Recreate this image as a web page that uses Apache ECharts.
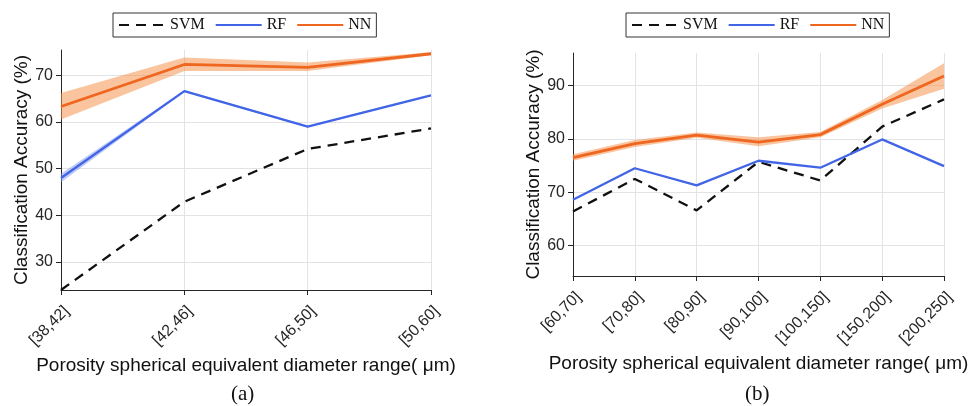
<!DOCTYPE html>
<html>
<head>
<meta charset="UTF-8">
<title>Classification Accuracy</title>
<script src="https://cdn.jsdelivr.net/npm/echarts@6/dist/echarts.min.js"></script>
<style>
  html, body { margin: 0; padding: 0; background: #fff; }
  #main { width: 974px; height: 406px; }
</style>
</head>
<body>
<div id="main"></div>
<script type="text/javascript">
// (a) categories & values
var catsA = ['[38,42]', '[42,46]', '[46,50]', '[50,60]'];
var svmA = [24.0, 42.9, 54.2, 58.6];
var rfA = [48.0, 66.6, 59.0, 65.7];
var rfALo = [47.1, 66.4, 58.8, 65.5];
var rfAHi = [48.9, 66.8, 59.2, 65.9];
var nnA = [63.3, 72.3, 71.7, 74.6];
var nnALo = [60.5, 70.9, 70.9, 74.3];
var nnAHi = [66.2, 73.8, 72.7, 74.9];

// (b) categories & values
var catsB = ['[60,70]', '[70,80]', '[80,90]', '[90,100]', '[100,150]', '[150,200]', '[200,250]'];
var svmB = [66.4, 72.5, 66.6, 75.7, 72.2, 82.3, 87.4];
var rfB = [68.6, 74.5, 71.3, 75.9, 74.6, 79.9, 74.9];
var nnB = [76.5, 79.1, 80.7, 79.4, 80.8, 86.5, 91.8];
var nnBLo = [75.9, 78.5, 80.2, 78.6, 80.3, 85.7, 89.4];
var nnBHi = [77.1, 79.8, 81.2, 80.3, 81.3, 87.3, 94.2];

var C_SVM = '#111111', C_RF = '#4165e6', C_NN = '#ee661f';
var SANS = 'Liberation Sans', SERIF = 'Liberation Serif';

function diff(hi, lo) {
  var out = [];
  for (var i = 0; i < hi.length; i++) out.push(+(hi[i] - lo[i]).toFixed(2));
  return out;
}

function bandSeries(id, lo, hi, color, opacity, idx) {
  return [
    { name: id + '_lo', type: 'line', xAxisIndex: idx, yAxisIndex: idx, data: lo, stack: id,
      symbol: 'none', silent: true, lineStyle: { opacity: 0 }, z: 1 },
    { name: id + '_band', type: 'line', xAxisIndex: idx, yAxisIndex: idx, data: diff(hi, lo), stack: id,
      symbol: 'none', silent: true, lineStyle: { opacity: 0 },
      areaStyle: { color: color, opacity: opacity }, z: 1 }
  ];
}

function lineSeries(name, data, color, width, dashed, idx) {
  return { name: name, type: 'line', xAxisIndex: idx, yAxisIndex: idx, data: data,
    symbol: 'none', z: 3,
    itemStyle: { color: color },
    lineStyle: { color: color, width: width, type: dashed ? [10, 7] : 'solid' } };
}

function xAxisCfg(cats, idx, gap) {
  return {
    type: 'category', gridIndex: idx, data: cats, boundaryGap: false,
    axisLine: { lineStyle: { color: '#262626', width: 1 } },
    axisTick: { show: true, alignWithLabel: true, length: 5, lineStyle: { color: '#262626' } },
    axisLabel: { rotate: 45, fontFamily: SANS, fontSize: 16, color: '#262626', margin: 13, verticalAlign: 'top' },
    splitLine: { show: true, lineStyle: { color: '#e3e3e3', width: 1 } },
    name: 'Porosity spherical equivalent diameter range( \u03bcm)',
    nameLocation: 'middle', nameGap: gap,
    nameTextStyle: { fontFamily: SANS, fontSize: 19, color: '#111' }
  };
}

function yAxisCfg(idx, mn, mx) {
  return {
    type: 'value', gridIndex: idx, min: mn, max: mx, splitNumber: 5,
    axisLine: { show: true, lineStyle: { color: '#262626', width: 1 } },
    axisTick: { show: true, length: 5, lineStyle: { color: '#262626' } },
    axisLabel: { fontFamily: SANS, fontSize: 16, color: '#262626', showMinLabel: false, showMaxLabel: false, margin: 8 },
    splitLine: { show: true, showMinLine: false, showMaxLine: false, lineStyle: { color: '#e3e3e3', width: 1 } },
    name: 'Classification Accuracy (%)', nameLocation: 'middle', nameGap: 30,
    nameTextStyle: { fontFamily: SANS, fontSize: 19, color: '#111' }
  };
}

function legendCfg(left) {
  return {
    data: ['SVM', 'RF', 'NN'], left: left, top: 13, orient: 'horizontal',
    itemWidth: 46, itemHeight: 14, itemGap: 10, padding: [4, 5, 4, 5],
    borderColor: '#333', borderWidth: 1, borderRadius: 0, backgroundColor: '#fff',
    selectedMode: false,
    itemStyle: { opacity: 0 },
    textStyle: { fontFamily: SERIF, fontSize: 16, color: '#111' }
  };
}

var myChart = echarts.init(document.getElementById('main'), null, { renderer: 'canvas' });

var series = [].concat(
  bandSeries('nnA', nnALo, nnAHi, '#f4934f', 0.55, 0),
  bandSeries('rfA', rfALo, rfAHi, '#7d97f0', 0.5, 0),
  [lineSeries('SVM', svmA, C_SVM, 2.3, true, 0),
   lineSeries('RF', rfA, C_RF, 2.3, false, 0),
   lineSeries('NN', nnA, C_NN, 2.8, false, 0)],
  bandSeries('nnB', nnBLo, nnBHi, '#f4934f', 0.55, 1),
  [lineSeries('SVM', svmB, C_SVM, 2.3, true, 1),
   lineSeries('RF', rfB, C_RF, 2.3, false, 1),
   lineSeries('NN', nnB, C_NN, 2.8, false, 1)]
);

var option = {
  animation: false,
  backgroundColor: '#fff',
  grid: [
    { left: 61, right: 543, top: 50, bottom: 116 },
    { left: 573, right: 30, top: 53, bottom: 130 }
  ],
  legend: [legendCfg(113), legendCfg(626)],
  xAxis: [xAxisCfg(catsA, 0, 64), xAxisCfg(catsB, 1, 78)],
  yAxis: [yAxisCfg(0, 24, 75.4), yAxisCfg(1, 54.3, 96.1)],
  graphic: [
    { type: 'text', left: 231, top: 384, style: { text: '(a)', fontFamily: SERIF, fontSize: 21, fill: '#111' } },
    { type: 'text', left: 745, top: 384, style: { text: '(b)', fontFamily: SERIF, fontSize: 21, fill: '#111' } }
  ],
  series: series
};

myChart.setOption(option);
</script>
</body>
</html>
